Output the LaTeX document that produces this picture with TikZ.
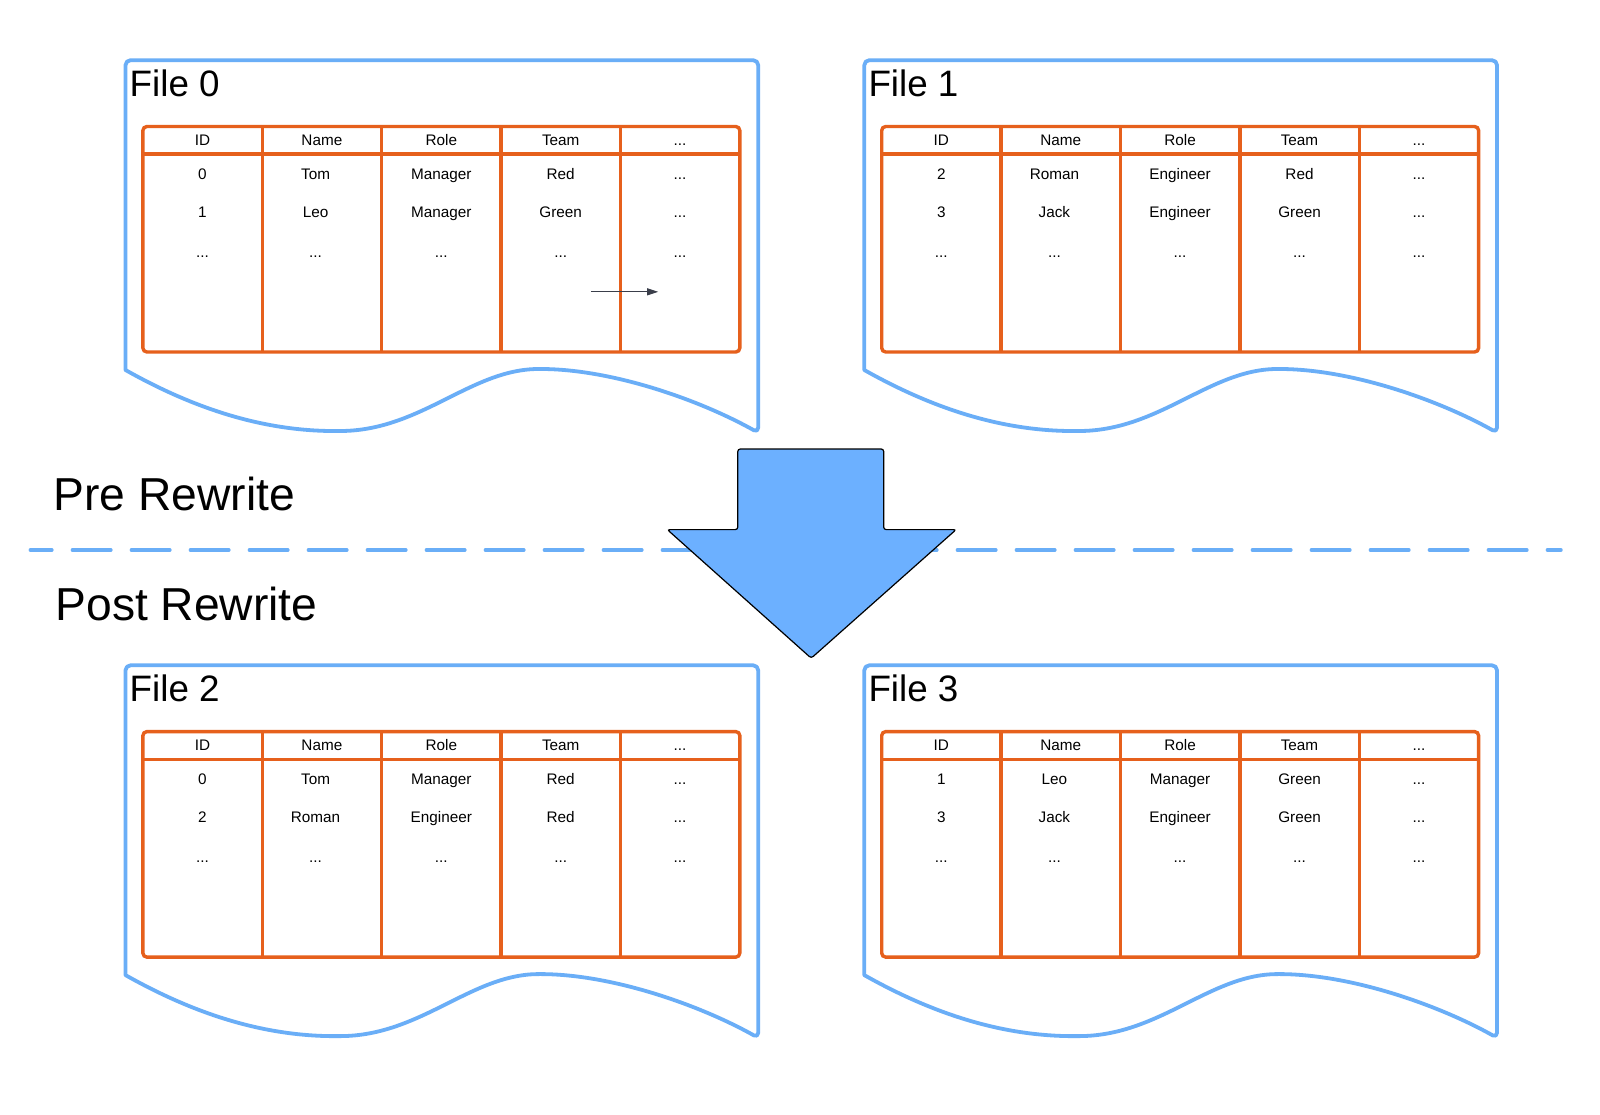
\documentclass[tikz,border=0pt]{standalone}
\usepackage{fontspec}
\setmainfont{Liberation Sans}
\usetikzlibrary{arrows.meta}
\definecolor{docblue}{RGB}{106,174,247}
\definecolor{arrowblue}{RGB}{108,176,255}
\definecolor{taborange}{RGB}{230,96,28}
\definecolor{darkarrow}{RGB}{58,62,74}
\newcommand\dotsx{...}
\tikzset{
 docline/.style={draw=docblue, line width=3.8pt, line join=round},
 tabline/.style={draw=taborange, line width=3.4pt},
 cell/.style={anchor=base, inner sep=0pt, font=\fontsize{15.3}{18}\selectfont},
 filetitle/.style={anchor=base west, inner sep=0pt, font=\fontsize{36.8}{40}\selectfont},
 sectionlabel/.style={anchor=base west, inner sep=0pt, font=\fontsize{46.2}{50}\selectfont},
 sepline/.style={draw=docblue, line width=3.4pt, dash pattern=on 38.5pt off 20.5pt, dash phase=16.9pt, line cap=round},
 bigarrow/.style={fill=arrowblue, draw=black, line width=1.2pt, rounded corners=2.5pt},
 smallarrow/.style={draw=darkarrow, line width=1pt, -{Triangle[length=11pt,width=7pt]}},
}
% #1 file index, #2 row name, #3 baseline y, #4..#7 cells
\newcommand\datarow[7]{%
 \node[cell] (f#1#2a) at (202.5,#3) {#4};
 \node[cell] (f#1#2b) at (315.6,#3) {#5};
 \node[cell] (f#1#2c) at (441.3,#3) {#6};
 \node[cell] (f#1#2d) at (560.7,#3) {#7};
 \node[cell] (f#1#2e) at (680.1,#3) {\dotsx};
}
% #1 index, #2 dx, #3 dy, #4 row1 cells, #5 row2 cells
\newcommand\tabfile[5]{%
\begin{scope}[shift={(#2,#3)}]
 \draw[docline] (125.5,200) [rounded corners=5pt] -- (125.5,60.2) -- (758.2,60.2) -- (758.2,432.7) [sharp corners]
   .. controls (700,400) and (610,368) .. (537,369)
   .. controls (470,370) and (420,431) .. (340,431)
   .. controls (270,432) and (200,412) .. (125.5,370) -- cycle;
 \node[filetitle] (title#1) at (129.5,96.7) {File #1};
 \draw[tabline, rounded corners=4pt] (142.9,126.5) rectangle (739.8,352);
 \draw[tabline] (142.9,154.1) -- (739.8,154.1);
 \foreach \x in {262.2,381.6,501,620.4} \draw[tabline] (\x,126.5) -- (\x,352);
 \foreach \t/\x [count=\k] in {ID/202.5,Name/321.9,Role/441.3,Team/560.7,\dotsx/680.1}
   \node[cell] (f#1h\k) at (\x,145.4) {\t};
 \datarow{#1}{r}{179.1}#4
 \datarow{#1}{s}{217.8}#5
 \datarow{#1}{t}{257}{\dotsx}{\dotsx}{\dotsx}{\dotsx}
\end{scope}}
\begin{document}
\begin{tikzpicture}[x=1pt,y=-1pt]
\useasboundingbox (0,0) rectangle (1600,1114);
\fill[white] (0,0) rectangle (1600,1114);

\tabfile{0}{0}{0}{{0}{Tom}{Manager}{Red}}{{1}{Leo}{Manager}{Green}}
\tabfile{1}{738.8}{0}{{2}{Roman}{Engineer}{Red}}{{3}{Jack}{Engineer}{Green}}
\tabfile{2}{0}{605.1}{{0}{Tom}{Manager}{Red}}{{2}{Roman}{Engineer}{Red}}
\tabfile{3}{738.8}{605.1}{{1}{Leo}{Manager}{Green}}{{3}{Jack}{Engineer}{Green}}

\coordinate (sa) at (590.8,291.8);
\coordinate (sb) at (658.2,291.8);
\draw[smallarrow] (sa) -- (sb);

\node[sectionlabel] (pre) at (53.5,510.7) {Pre Rewrite};
\node[sectionlabel] (post) at (55.5,620) {Post Rewrite};

\coordinate (dl) at (30.3,550);
\coordinate (dr) at (1561,550);
\draw[sepline] (dl) -- (dr);

\draw[bigarrow] (737.8,449) -- (883.7,449) -- (883.7,529.6) -- (956.1,529.6)
  -- (811.2,658.2) -- (667.3,529.6) -- (737.8,529.6) -- cycle;
\end{tikzpicture}
\end{document}
